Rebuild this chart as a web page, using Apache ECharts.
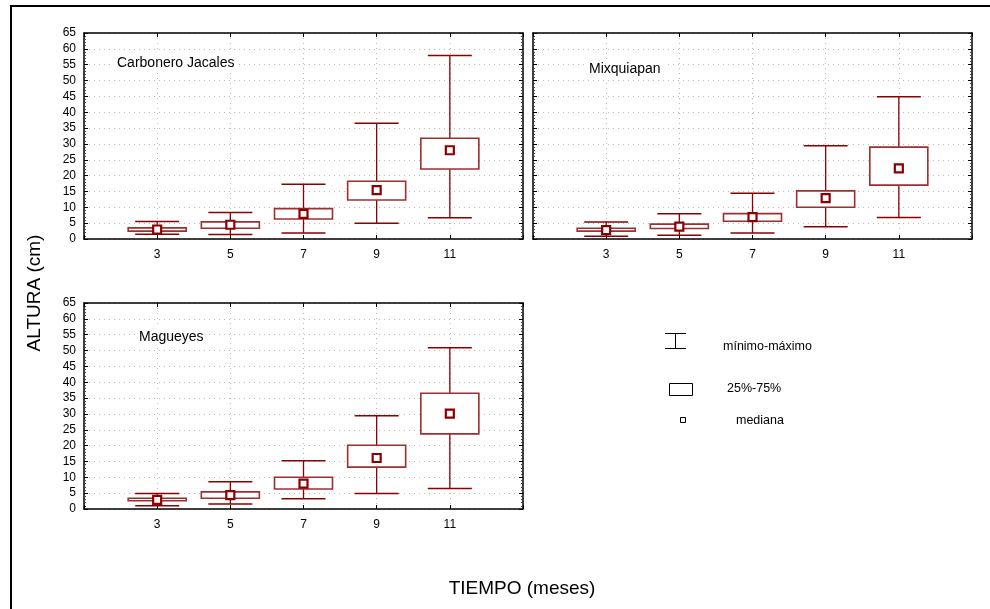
<!DOCTYPE html>
<html><head><meta charset="utf-8">
<script src="https://cdn.jsdelivr.net/npm/echarts@6/dist/echarts.min.js"></script>
<style>html,body{margin:0;padding:0;background:#fff}#c{width:990px;height:609px}</style>
</head><body><div id="c"></div>
<script>
// ---- data ----
const months = ['3', '5', '7', '9', '11'];
const axisCats = ['1', '3', '5', '7', '9', '11', '13'];
const yMin = 0, yMax = 65, yStep = 5;
const siteNames = ['Carbonero Jacales', 'Mixquiapan', 'Magueyes'];
// each row: [minimum, q25, median, q75, maximum]
const carboneroJacales = [
  [1.5, 2.5, 3.0, 3.5, 5.5],
  [1.4, 3.4, 4.5, 5.4, 8.4],
  [1.9, 6.3, 7.9, 9.6, 17.3],
  [5.0, 12.3, 15.4, 18.2, 36.5],
  [6.7, 22.1, 28.0, 31.8, 57.9]
];
const mixquiapan = [
  [0.9, 2.5, 2.8, 3.4, 5.4],
  [1.2, 3.3, 3.9, 4.7, 8.0],
  [1.9, 5.6, 6.9, 8.0, 14.4],
  [3.9, 10.0, 12.9, 15.2, 29.4],
  [6.8, 17.0, 22.3, 29.0, 44.9]
];
const magueyes = [
  [1.0, 2.6, 2.9, 3.4, 4.9],
  [1.6, 3.4, 4.4, 5.4, 8.6],
  [3.2, 6.3, 8.0, 10.0, 15.2],
  [4.9, 13.2, 16.1, 20.1, 29.4],
  [6.5, 23.7, 30.1, 36.5, 50.9]
];
const legendLabels = ['mínimo-máximo', '25%-75%', 'mediana'];
const yAxisTitle = 'ALTURA (cm)';
const xAxisTitle = 'TIEMPO (meses)';

// ---- layout / style ----
const FONT = 'Liberation Sans, Arial, sans-serif';
const DARK = '#8b0000';
const BOXC = '#9e2f2f';
const grids = [
  {left: 84, top: 33, width: 439, height: 206},
  {left: 533, top: 33, width: 439, height: 206},
  {left: 84, top: 303, width: 439, height: 206}
];
const siteData = [carboneroJacales, mixquiapan, magueyes];
const titlePos = [[113, 53], [585, 59], [135, 327]];

function renderBox(params, api) {
  const x = api.value(0);
  const pMin = api.coord([x, api.value(1)]);
  const pQ1 = api.coord([x, api.value(2)]);
  const pMed = api.coord([x, api.value(3)]);
  const pQ3 = api.coord([x, api.value(4)]);
  const pMax = api.coord([x, api.value(5)]);
  const cx = pMin[0];
  const bw = 58, cw = 44, ms = 8;
  return {
    type: 'group',
    children: [
      {type: 'line', shape: {x1: cx, y1: pMax[1], x2: cx, y2: pMin[1]}, style: {stroke: DARK, lineWidth: 1.3}},
      {type: 'line', shape: {x1: cx - cw / 2, y1: pMax[1], x2: cx + cw / 2, y2: pMax[1]}, style: {stroke: DARK, lineWidth: 1.5}},
      {type: 'line', shape: {x1: cx - cw / 2, y1: pMin[1], x2: cx + cw / 2, y2: pMin[1]}, style: {stroke: DARK, lineWidth: 1.5}},
      {type: 'rect', shape: {x: cx - bw / 2, y: pQ3[1], width: bw, height: pQ1[1] - pQ3[1]}, style: {fill: '#fff', stroke: BOXC, lineWidth: 1.6}},
      {type: 'rect', shape: {x: cx - ms / 2, y: pMed[1] - ms / 2, width: ms, height: ms}, style: {fill: '#fff', stroke: DARK, lineWidth: 2.2}}
    ]
  };
}

const xAxes = [], yAxes = [], series = [], titles = [];
grids.forEach((g, i) => {
  xAxes.push({
    gridIndex: i, type: 'category', data: axisCats, boundaryGap: false,
    axisLine: {onZero: false, lineStyle: {color: '#000', width: 1.5}},
    axisTick: {show: true, inside: true, length: 4, lineStyle: {color: '#000'}},
    axisLabel: {color: '#000', fontSize: 12, fontFamily: FONT, margin: 10,
      formatter: v => (months.indexOf(v) >= 0 ? v : '')},
    splitLine: {show: true, lineStyle: {color: '#b8b8b8', type: [1, 4], width: 1}}
  });
  xAxes.push({
    gridIndex: i, type: 'category', data: axisCats, boundaryGap: false, position: 'top',
    axisLine: {onZero: false, lineStyle: {color: '#000', width: 1.5}},
    axisTick: {show: true, inside: true, length: 4, lineStyle: {color: '#000'}},
    axisLabel: {show: false}, splitLine: {show: false}
  });
  yAxes.push({
    gridIndex: i, type: 'value', min: yMin, max: yMax, interval: yStep,
    axisLine: {show: true, onZero: false, lineStyle: {color: '#000', width: 1.5}},
    axisTick: {show: true, inside: true, length: 4, lineStyle: {color: '#000'}},
    minorTick: {show: true, splitNumber: 5, length: 2, lineStyle: {color: '#444'}},
    axisLabel: {show: i !== 1, color: '#000', fontSize: 12, fontFamily: FONT, margin: 8},
    splitLine: {show: true, lineStyle: {color: '#b8b8b8', type: [1, 4], width: 1}}
  });
  yAxes.push({
    gridIndex: i, type: 'value', min: yMin, max: yMax, interval: yStep, position: 'right',
    axisLine: {show: true, onZero: false, lineStyle: {color: '#000', width: 1.5}},
    axisTick: {show: true, inside: true, length: 4, lineStyle: {color: '#000'}},
    minorTick: {show: true, splitNumber: 5, length: 2, lineStyle: {color: '#444'}},
    axisLabel: {show: false}, splitLine: {show: false}
  });
  series.push({
    type: 'custom', xAxisIndex: i * 2, yAxisIndex: i * 2, renderItem: renderBox,
    encode: {x: 0, y: [1, 2, 3, 4, 5]},
    data: siteData[i].map((r, k) => [months[k]].concat(r)),
    z: 5
  });
  titles.push({
    text: siteNames[i], left: titlePos[i][0], top: titlePos[i][1],
    backgroundColor: '#fff', padding: [3, 4],
    textStyle: {fontSize: 14, fontWeight: 'normal', color: '#000', fontFamily: FONT}
  });
});

const txt = (s, x, y, size, extra) => Object.assign({
  type: 'text', x: x, y: y,
  style: {text: s, fill: '#000', font: size + 'px ' + FONT, textVerticalAlign: 'middle'}
}, extra || {});

const graphic = [
  {type: 'rect', shape: {x: 11, y: 6, width: 1000, height: 640}, style: {fill: 'none', stroke: '#000', lineWidth: 2}, z: -1},
  {type: 'text', x: 35, y: 293, rotation: Math.PI / 2,
    style: {text: yAxisTitle, fill: '#000', font: '19px ' + FONT, textAlign: 'center', textVerticalAlign: 'middle'}},
  {type: 'text', x: 522, y: 589,
    style: {text: xAxisTitle, fill: '#000', font: '19px ' + FONT, textAlign: 'center', textVerticalAlign: 'middle'}},
  // legend symbols
  {type: 'line', shape: {x1: 665, y1: 333.5, x2: 686, y2: 333.5}, style: {stroke: '#000', lineWidth: 1}},
  {type: 'line', shape: {x1: 665, y1: 348.5, x2: 686, y2: 348.5}, style: {stroke: '#000', lineWidth: 1}},
  {type: 'line', shape: {x1: 675.5, y1: 333.5, x2: 675.5, y2: 348.5}, style: {stroke: '#000', lineWidth: 1}},
  {type: 'rect', shape: {x: 669.5, y: 383.5, width: 23, height: 12}, style: {fill: '#fff', stroke: '#000', lineWidth: 1}},
  {type: 'rect', shape: {x: 680.5, y: 417.5, width: 5, height: 5}, style: {fill: '#fff', stroke: '#000', lineWidth: 1}},
  txt(legendLabels[0], 723, 347, 12.5),
  txt(legendLabels[1], 727, 389, 12.5),
  txt(legendLabels[2], 736, 421, 12.5)
];

const chart = echarts.init(document.getElementById('c'), null, {renderer: 'canvas'});
chart.setOption({
  animation: false,
  backgroundColor: '#fff',
  title: titles,
  grid: grids,
  xAxis: xAxes,
  yAxis: yAxes,
  series: series,
  graphic: graphic
});
</script>
</body></html>
